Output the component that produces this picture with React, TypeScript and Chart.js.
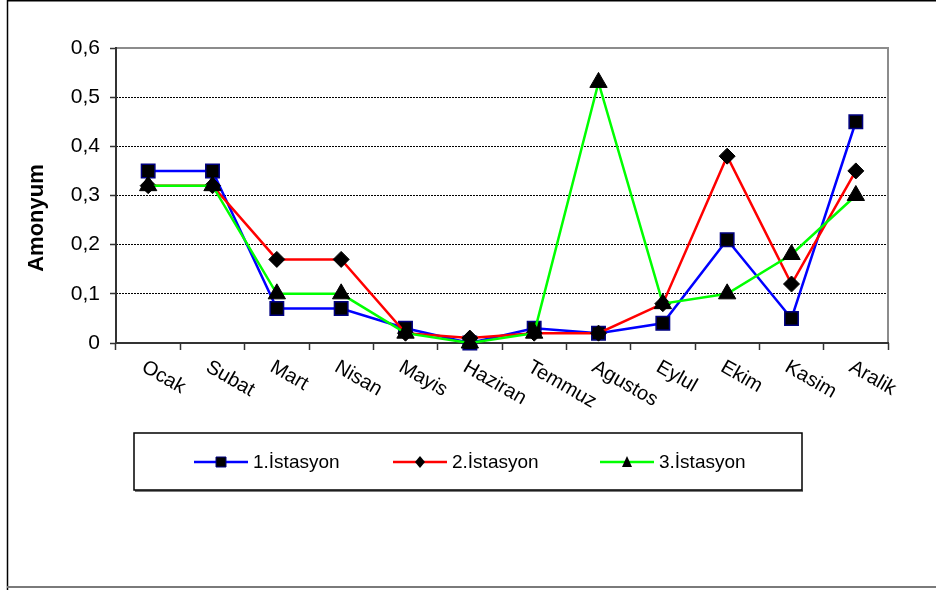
import React, { useEffect, useRef } from "react";
import { Chart, registerables } from "chart.js";

Chart.register(...registerables);

// Monthly ammonium readings for three sampling stations
const months = ["Ocak", "Subat", "Mart", "Nisan", "Mayis", "Haziran", "Temmuz", "Agustos", "Eylul", "Ekim", "Kasim", "Aralik"];
const station1 = [0.35, 0.35, 0.07, 0.07, 0.03, 0.0, 0.03, 0.02, 0.04, 0.21, 0.05, 0.45];
const station2 = [0.32, 0.32, 0.17, 0.17, 0.02, 0.01, 0.02, 0.02, 0.08, 0.38, 0.12, 0.35];
const station3 = [0.32, 0.32, 0.1, 0.1, 0.02, 0.0, 0.02, 0.53, 0.08, 0.1, 0.18, 0.3];
const seriesNames = ["1.İstasyon", "2.İstasyon", "3.İstasyon"];
const seriesColors = ["#0000ff", "#ff0000", "#00ff00"];
const yTitle = "Amonyum";
const yMin = 0;
const yMax = 0.6;
const yStep = 0.1;

const FONT = '"Liberation Sans", Arial, Helvetica, sans-serif';
const W = 936;
const H = 590;

const fmtTick = (v: number) => {
  const r = Math.round(v * 10) / 10;
  return r === 0 ? "0" : r.toFixed(1).replace(".", ",");
};

function drawMarker(ctx: CanvasRenderingContext2D, style: string, x: number, y: number, s: number) {
  ctx.save();
  ctx.fillStyle = "#000";
  ctx.beginPath();
  if (style === "rect") {
    ctx.rect(x - s, y - s, 2 * s, 2 * s);
    ctx.fill();
    ctx.strokeStyle = "#000080";
    ctx.lineWidth = 1;
    ctx.stroke();
  } else if (style === "rectRot") {
    ctx.moveTo(x, y - s - 1);
    ctx.lineTo(x + s, y);
    ctx.lineTo(x, y + s + 1);
    ctx.lineTo(x - s, y);
    ctx.closePath();
    ctx.fill();
  } else {
    ctx.moveTo(x, y - s - 1);
    ctx.lineTo(x + s, y + s);
    ctx.lineTo(x - s, y + s);
    ctx.closePath();
    ctx.fill();
  }
  ctx.restore();
}

const frame = {
  id: "frame",
  beforeDraw(chart: any) {
    const { ctx } = chart;
    ctx.save();
    ctx.fillStyle = "#fff";
    ctx.fillRect(0, 0, W, H);
    ctx.restore();
  },
  beforeDatasetsDraw(chart: any) {
    const { ctx, chartArea: a } = chart;
    ctx.save();
    // plot frame: grey top/right, dark axes left/bottom
    ctx.strokeStyle = "#8c8c8c";
    ctx.lineWidth = 2;
    ctx.beginPath();
    ctx.moveTo(a.left, a.top);
    ctx.lineTo(a.right, a.top);
    ctx.lineTo(a.right, a.bottom);
    ctx.stroke();
    ctx.strokeStyle = "#333";
    ctx.beginPath();
    ctx.moveTo(a.left, a.top - 1);
    ctx.lineTo(a.left, a.bottom);
    ctx.lineTo(a.right + 1, a.bottom);
    ctx.stroke();
    ctx.restore();
  },
  afterDraw(chart: any) {
    const { ctx, chartArea: a } = chart;
    const xs = chart.scales.x;
    ctx.save();

    // outer chart border
    ctx.strokeStyle = "#000";
    ctx.lineWidth = 1.5;
    ctx.beginPath();
    ctx.moveTo(7.5, H);
    ctx.lineTo(7.5, 0.75);
    ctx.lineTo(W, 0.75);
    ctx.stroke();
    ctx.strokeStyle = "#7a7a7a";
    ctx.lineWidth = 2;
    ctx.beginPath();
    ctx.moveTo(7, 587);
    ctx.lineTo(W, 587);
    ctx.stroke();

    // rotated month labels
    ctx.fillStyle = "#000";
    ctx.font = `20px ${FONT}`;
    ctx.textAlign = "left";
    ctx.textBaseline = "top";
    months.forEach((m, i) => {
      const x = xs.getPixelForValue(i);
      ctx.save();
      ctx.translate(x, a.bottom + 14);
      ctx.rotate((30 * Math.PI) / 180);
      ctx.fillText(m, 0, 0);
      ctx.restore();
    });

    // y axis title
    ctx.save();
    ctx.translate(37, 218);
    ctx.rotate(-Math.PI / 2);
    ctx.font = `bold 22px ${FONT}`;
    ctx.textAlign = "center";
    ctx.textBaseline = "middle";
    ctx.fillText(yTitle, 0, 0);
    ctx.restore();

    // legend box
    const bx = 134, by = 433, bw = 668, bh = 57;
    ctx.strokeStyle = "#7a7a7a";
    ctx.lineWidth = 2;
    ctx.beginPath();
    ctx.moveTo(bx + 1, by + bh + 1);
    ctx.lineTo(bx + bw + 1, by + bh + 1);
    ctx.stroke();
    ctx.strokeStyle = "#000";
    ctx.lineWidth = 1.5;
    ctx.strokeRect(bx, by, bw, bh);

    const starts = [194, 393, 600];
    const styles = ["rect", "rectRot", "triangle"];
    const ly = 462;
    seriesNames.forEach((name, i) => {
      const x0 = starts[i];
      ctx.strokeStyle = seriesColors[i];
      ctx.lineWidth = 2.5;
      ctx.beginPath();
      ctx.moveTo(x0, ly);
      ctx.lineTo(x0 + 54, ly);
      ctx.stroke();
      drawMarker(ctx, styles[i], x0 + 27, ly, 5);
      ctx.fillStyle = "#000";
      ctx.font = `19px ${FONT}`;
      ctx.textAlign = "left";
      ctx.textBaseline = "middle";
      ctx.fillText(name, x0 + 59, ly + 1);
    });
    ctx.restore();
  },
};

export default function App() {
  const ref = useRef<HTMLCanvasElement | null>(null);

  useEffect(() => {
    document.body.style.margin = "0";
    const canvas = ref.current;
    if (!canvas) return;

    const chart = new Chart(canvas, {
      type: "line",
      data: {
        labels: months,
        datasets: [
          {
            label: seriesNames[0],
            data: station1,
            borderColor: seriesColors[0],
            backgroundColor: "#000",
            borderWidth: 2.5,
            pointStyle: "rect",
            pointRadius: 9.5,
            pointBorderColor: "#000080",
            pointBorderWidth: 1.5,
            pointBackgroundColor: "#000",
            tension: 0,
            clip: false,
            order: 3,
          },
          {
            label: seriesNames[1],
            data: station2,
            borderColor: seriesColors[1],
            backgroundColor: "#000",
            borderWidth: 2.5,
            pointStyle: "rectRot",
            pointRadius: 8,
            pointBorderColor: "#000",
            pointBorderWidth: 1,
            pointBackgroundColor: "#000",
            tension: 0,
            clip: false,
            order: 2,
          },
          {
            label: seriesNames[2],
            data: station3,
            borderColor: seriesColors[2],
            backgroundColor: "#000",
            borderWidth: 2.5,
            pointStyle: "triangle",
            pointRadius: 10,
            pointBorderColor: "#000",
            pointBorderWidth: 1,
            pointBackgroundColor: "#000",
            tension: 0,
            clip: false,
            order: 1,
          },
        ],
      },
      options: {
        responsive: false,
        animation: false,
        devicePixelRatio: 1,
        layout: { padding: { top: 48, right: 48, bottom: 0, left: 0 } },
        plugins: {
          legend: { display: false },
          tooltip: { enabled: false },
          title: { display: false },
        },
        scales: {
          x: {
            type: "category",
            offset: true,
            ticks: { display: false },
            grid: {
              offset: true,
              drawOnChartArea: false,
              drawTicks: true,
              tickLength: 7,
              tickColor: "#333",
              tickWidth: 1.5,
            },
            border: { display: false },
            afterFit: (s: any) => {
              s.height = H - 343;
            },
          },
          y: {
            min: yMin,
            max: yMax,
            ticks: {
              stepSize: yStep,
              padding: 10,
              color: "#000",
              font: { family: FONT, size: 21 },
              callback: (v: any) => fmtTick(Number(v)),
            },
            grid: {
              color: (c: any) => {
                const v = c.tick ? c.tick.value : 0;
                return v > 0.001 && v < yMax - 0.001 ? "#000" : "rgba(0,0,0,0)";
              },
              lineWidth: 1,
              tickLength: 6,
              tickColor: "#333",
              tickWidth: 1.5,
              tickBorderDash: [],
            },
            border: { display: false, dash: [2, 1] },
            afterFit: (s: any) => {
              s.width = 116;
            },
          },
        },
      },
      plugins: [frame],
    } as any);

    return () => chart.destroy();
  }, []);

  return (
    <div style={{ position: "relative", width: W, height: H, background: "#fff" }}>
      <canvas ref={ref} width={W} height={H} style={{ display: "block", width: W, height: H }} />
    </div>
  );
}
